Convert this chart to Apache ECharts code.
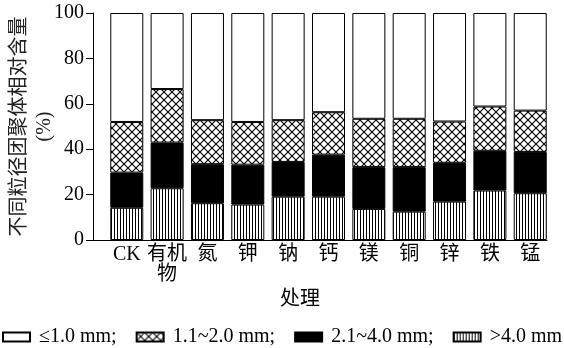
<!DOCTYPE html>
<html>
<head>
<meta charset="utf-8">
<script src="https://cdn.jsdelivr.net/npm/echarts@6/dist/echarts.min.js"></script>
<style>
  html, body { margin: 0; padding: 0; background: #fff; }
  #chart { width: 564px; height: 348px; }
</style>
</head>
<body>
<div id="chart"></div>
<script>
// 处理（类别）
const categories = ['CK', '有机物', '氮', '钾', '钠', '钙', '镁', '铜', '锌', '铁', '锰'];
// 各粒径团聚体相对含量 (%)，自下而上
const over4 = [14.2, 22.8, 16.2, 15.6, 19.1, 19.1, 13.7, 12.5, 16.9, 21.8, 20.6];   // >4.0 mm
const mid21 = [15.5, 20.1, 17.2, 17.6, 15.3, 18.5, 18.4, 19.6, 17.1, 17.5, 18.2];   // 2.1~4.0 mm
const mid11 = [22.3, 23.6, 19.4, 18.8, 18.4, 18.7, 21.3, 21.3, 18.2, 19.5, 18.2];   // 1.1~2.0 mm
const under1 = [48.0, 33.5, 47.2, 48.0, 47.2, 43.7, 46.6, 46.6, 47.8, 41.2, 43.0];  // ≤1.0 mm
const yTicks = [0, 20, 40, 60, 80, 100];

const FONT = "'Liberation Serif', 'Noto Sans CJK SC', serif";

// 填充图案
function stripes() {
    const c = document.createElement('canvas');
    c.width = 3; c.height = 3;
    const g = c.getContext('2d');
    g.fillStyle = '#fff'; g.fillRect(0, 0, 3, 3);
    g.fillStyle = '#000'; g.fillRect(0, 0, 1, 3);
    return c;
}
function crossHatch() {
    const s = 8;
    const c = document.createElement('canvas');
    c.width = s; c.height = s;
    const g = c.getContext('2d');
    g.fillStyle = '#fff'; g.fillRect(0, 0, s, s);
    g.strokeStyle = '#000'; g.lineWidth = 1.1;
    g.beginPath();
    g.moveTo(-1, -1); g.lineTo(s + 1, s + 1);
    g.moveTo(s + 1, -1); g.lineTo(-1, s + 1);
    g.stroke();
    return c;
}

const names = ['≤1.0 mm', '1.1~2.0 mm', '2.1~4.0 mm', '>4.0 mm'];

function bar(name, data, color) {
    return {
        name: name,
        type: 'bar',
        stack: 'total',
        xAxisIndex: 1,
        yAxisIndex: 1,
        barWidth: 33,
        data: data,
        itemStyle: { color: color, borderColor: '#000', borderWidth: 1 }
    };
}

const chart = echarts.init(document.getElementById('chart'));

chart.setOption({
    animation: false,
    textStyle: { fontFamily: FONT, color: '#000' },
    title: {
        text: '处理',
        left: 275,
        top: 285,
        textStyle: { fontFamily: FONT, fontSize: 20, fontWeight: 'normal', color: '#000' }
    },
    legend: {
        data: names,
        icon: 'rect',
        left: 2,
        top: 327,
        itemWidth: 27,
        itemHeight: 9,
        itemGap: 19,
        padding: 0,
        formatter: function (n) { return n === '>4.0 mm' ? n : n + ';'; },
        textStyle: { fontFamily: FONT, fontSize: 20, color: '#000', padding: [0, 0, 0, 4] }
    },
    grid: [
        { left: 93, right: 17, top: 13, bottom: 108, containLabel: false, outerBoundsMode: 'none' },
        { left: 106.6, right: 13.6, top: 13, bottom: 108, containLabel: false, outerBoundsMode: 'none' }
    ],
    xAxis: [
        {
            type: 'value', gridIndex: 0, min: 0, max: 1,
            axisLine: { show: true, lineStyle: { color: '#000', width: 1 } },
            axisTick: { show: false }, axisLabel: { show: false }, splitLine: { show: false }
        },
        {
            type: 'category', gridIndex: 1, data: categories,
            axisLine: { show: false }, axisTick: { show: false },
            axisLabel: {
                interval: 0, margin: 5, fontSize: 20, lineHeight: 20, color: '#000', fontFamily: FONT,
                formatter: function (v) { return v.length > 2 ? v.slice(0, 2) + '\n' + v.slice(2) : v; }
            }
        }
    ],
    yAxis: [
        {
            type: 'value', gridIndex: 0, min: yTicks[0], max: yTicks[yTicks.length - 1], interval: 20,
            name: '不同粒径团聚体相对含量\n(%)',
            nameLocation: 'middle',
            nameRotate: 90,
            nameGap: 36,
            nameMoveOverlap: false,
            nameTextStyle: { fontFamily: FONT, fontSize: 20, lineHeight: 25, color: '#222' },
            axisLine: { show: true, lineStyle: { color: '#000', width: 1 } },
            axisTick: { show: true, length: 7, lineStyle: { color: '#000' } },
            axisLabel: { fontSize: 20, margin: 9, color: '#000', fontFamily: FONT },
            splitLine: { show: false }
        },
        { type: 'value', gridIndex: 1, min: 0, max: 100, show: false }
    ],
    series: [
        bar(names[3], over4, { image: stripes(), repeat: 'repeat' }),
        bar(names[2], mid21, '#000'),
        bar(names[1], mid11, { image: crossHatch(), repeat: 'repeat' }),
        bar(names[0], under1, '#fff')
    ]
});
</script>
</body>
</html>
